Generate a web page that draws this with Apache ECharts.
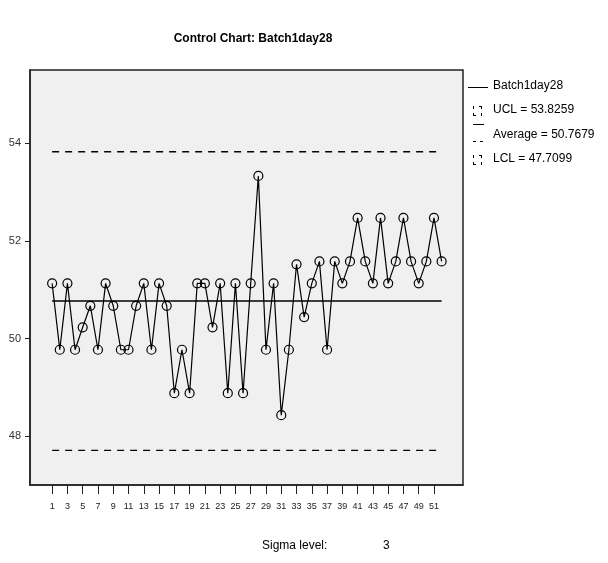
<!DOCTYPE html>
<html>
<head>
<meta charset="utf-8">
<script src="https://cdn.jsdelivr.net/npm/echarts@6/dist/echarts.min.js"></script>
<style>
html,body{margin:0;padding:0;background:#fff}
#main{width:608px;height:563px}
</style>
</head>
<body>
<div id="main"></div>
<script>
// Batch1day28 measurements, case 1..52
var batchValues = [
	51.13, 49.77, 51.13, 49.77, 50.23, 50.67, 49.77, 51.13, 50.67, 49.77,
	49.77, 50.67, 51.13, 49.77, 51.13, 50.67, 48.88, 49.77, 48.88, 51.13,
	51.13, 50.23, 51.13, 48.88, 51.13, 48.88, 51.13, 53.33, 49.77, 51.13,
	48.43, 49.77, 51.52, 50.44, 51.13, 51.58, 49.77, 51.58, 51.13, 51.58,
	52.47, 51.58, 51.13, 52.47, 51.13, 51.58, 52.47, 51.58, 51.13, 51.58,
	52.47, 51.58
];
var caseNums = [];
for (var i = 1; i <= batchValues.length; i++) {
	caseNums.push(i);
}
var xTickLabels = [1,3,5,7,9,11,13,15,17,19,21,23,25,27,29,31,33,35,37,39,41,43,45,47,49,51];
var yTickLabels = [48, 50, 52, 54];
var uclValue = 53.8259;
var avgValue = 50.7679;
var lclValue = 47.7099;
var legendNames = ['Batch1day28', 'UCL = 53.8259', 'Average = 50.7679', 'LCL = 47.7099'];

var font = 'Arial, "Liberation Sans", sans-serif';

function pairs(xs, ys) {
	var out = [];
	for (var i = 0; i < xs.length; i++) {
		out.push([xs[i], ys[i]]);
	}
	return out;
}
function flatLine(v) {
	return [[caseNums[0], v], [caseNums[caseNums.length - 1], v]];
}

var myChart = echarts.init(document.getElementById('main'), null, {renderer: 'canvas'});

// legend drawn by hand (SPSS style icons)
var lx = 473, tx = 493;
var rows = [87, 111, 136, 160];
var legendGraphics = [];
function seg(x1, y1, x2, y2) {
	legendGraphics.push({type: 'line', shape: {x1: x1, y1: y1, x2: x2, y2: y2}, style: {stroke: '#000', lineWidth: 1}});
}
function cornerBox(top) {
	seg(lx + 0.5, top, lx + 0.5, top + 3);
	seg(lx + 8.5, top, lx + 8.5, top + 3);
	seg(lx + 6, top + 0.5, lx + 8.5, top + 0.5);
	seg(lx + 0.5, top + 7, lx + 0.5, top + 10);
	seg(lx + 8.5, top + 7, lx + 8.5, top + 10);
	seg(lx, top + 9.5, lx + 3, top + 9.5);
}
seg(468, rows[0] + 0.5, 488, rows[0] + 0.5);
cornerBox(rows[1] - 5);
seg(lx, 124.5, lx + 11, 124.5);
seg(lx, rows[2] + 5.5, lx + 3, rows[2] + 5.5);
seg(lx + 7, rows[2] + 5.5, lx + 10, rows[2] + 5.5);
cornerBox(rows[3] - 5);
for (var r = 0; r < legendNames.length; r++) {
	legendGraphics.push({
		type: 'text', left: tx, top: rows[r] - 7,
		style: {text: legendNames[r], font: '12px ' + font, fill: '#000'}
	});
}
legendGraphics.push({type: 'text', left: 262, top: 540, style: {text: 'Sigma level:', font: '12px ' + font, fill: '#000'}});
legendGraphics.push({type: 'text', left: 383, top: 540, style: {text: '3', font: '12px ' + font, fill: '#000'}});

var option = {
	animation: false,
	backgroundColor: '#fff',
	title: {
		text: 'Control Chart: Batch1day28',
		left: 248,
		top: 28,
		textAlign: 'center',
		textStyle: {fontFamily: font, fontSize: 12, fontWeight: 'bold', color: '#000'}
	},
	grid: {
		left: 30, top: 70, right: 145, bottom: 78,
		show: true,
		backgroundColor: '#f0f0f0',
		borderColor: '#222',
		borderWidth: 1.5
	},
	xAxis: {
		type: 'value',
		min: -1.9,
		max: 54.8,
		axisLine: {show: true, onZero: false, lineStyle: {color: '#222', width: 1.5}},
		axisTick: {show: true, customValues: xTickLabels, length: 9, lineStyle: {color: '#222'}},
		axisLabel: {customValues: xTickLabels, fontSize: 9, fontFamily: font, color: '#222', margin: 17},
		splitLine: {show: false}
	},
	yAxis: {
		type: 'value',
		min: 47,
		max: 55.5,
		axisLine: {show: true, onZero: false, lineStyle: {color: '#222', width: 1.5}},
		axisTick: {show: true, customValues: yTickLabels, length: 5, lineStyle: {color: '#222'}},
		axisLabel: {customValues: yTickLabels, fontSize: 11, fontFamily: font, color: '#333', margin: 9},
		splitLine: {show: false}
	},
	graphic: legendGraphics,
	series: [{
		name: 'UCL',
		type: 'line',
		data: flatLine(uclValue),
		symbol: 'none',
		silent: true,
		lineStyle: {color: '#000', width: 1.3, type: [7, 6]}
	}, {
		name: 'LCL',
		type: 'line',
		data: flatLine(lclValue),
		symbol: 'none',
		silent: true,
		lineStyle: {color: '#000', width: 1.3, type: [7, 6]}
	}, {
		name: 'Average',
		type: 'line',
		data: flatLine(avgValue),
		symbol: 'none',
		silent: true,
		lineStyle: {color: '#000', width: 1.5}
	}, {
		name: 'Batch1day28',
		type: 'line',
		data: pairs(caseNums, batchValues),
		symbol: 'circle',
		symbolSize: 9,
		itemStyle: {color: 'rgba(0,0,0,0)', borderColor: '#000', borderWidth: 1.2},
		lineStyle: {color: '#000', width: 1.2},
		z: 5
	}]
};

myChart.setOption(option);
</script>
</body>
</html>
